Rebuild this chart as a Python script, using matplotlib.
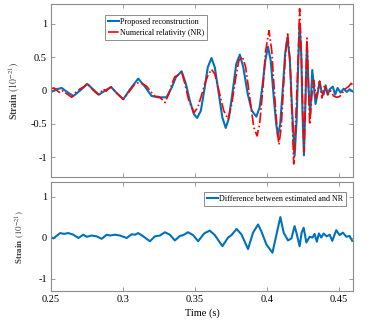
"""Reconstructed strain waveform vs numerical relativity, with the residual below."""

import matplotlib
matplotlib.use("Agg")
import matplotlib.pyplot as plt
from matplotlib.ticker import FixedLocator

plt.rcParams["font.family"] = ["Liberation Serif", "DejaVu Serif"]
plt.rcParams["mathtext.fontset"] = "stix"

# (time s, strain 1e-21)
blue_pts = [
    (0.2500, -0.02), (0.2535, 0.02), (0.2574, 0.04), (0.2611, -0.02), (0.2655, -0.08),
    (0.2701, 0.00), (0.2752, 0.10), (0.2792, 0.02), (0.2833, -0.06), (0.2875, 0.00),
    (0.2917, 0.055), (0.2958, -0.04), (0.3002, -0.13), (0.3049, 0.02), (0.3106, 0.18),
    (0.3153, 0.06), (0.3199, -0.08), (0.3243, -0.10), (0.3303, -0.10), (0.3340, 0.05),
    (0.3368, 0.20), (0.3408, 0.29), (0.3438, 0.10), (0.3465, -0.15), (0.3493, -0.35),
    (0.3516, -0.41), (0.3542, -0.30), (0.3569, 0.05), (0.3590, 0.35), (0.3616, 0.49),
    (0.3639, 0.35), (0.3667, -0.05), (0.3691, -0.40), (0.3715, -0.56), (0.3736, -0.42),
    (0.3764, 0.00), (0.3788, 0.40), (0.3813, 0.54), (0.3837, 0.35), (0.3868, -0.05),
    (0.3896, -0.30), (0.3928, -0.39), (0.3951, -0.25), (0.3972, 0.10), (0.3990, 0.45),
    (0.4009, 0.66), (0.4028, 0.45), (0.4049, -0.10), (0.4066, -0.50), (0.4078, -0.68),
    (0.4094, -0.50), (0.4111, 0.00), (0.4128, 0.55), (0.4144, 0.79), (0.4160, 0.50),
    (0.4177, -0.30), (0.4194, -0.98), (0.4208, -0.45), (0.4219, 0.40), (0.4229, 1.01),
    (0.4240, 0.55), (0.4250, -0.40), (0.4259, -0.97), (0.4269, -0.20), (0.4280, 0.70),
    (0.4292, 0.00), (0.4303, -0.36), (0.4317, 0.31), (0.4340, -0.20), (0.4358, 0.00),
    (0.4368, 0.14), (0.4382, -0.02), (0.4396, -0.06), (0.4410, 0.08), (0.4424, -0.06),
    (0.4438, 0.02), (0.4460, 0.06), (0.4476, -0.06), (0.4493, 0.04), (0.4514, -0.03),
    (0.4535, 0.03), (0.4556, -0.02), (0.4576, 0.02), (0.4597, -0.01),
]

red_pts = [
    (0.2500, 0.03), (0.2521, 0.04), (0.2542, 0.00), (0.2563, -0.035), (0.2583, 0.00),
    (0.2604, -0.04), (0.2644, -0.10), (0.2674, -0.02), (0.2701, 0.025), (0.2729, 0.06),
    (0.2752, 0.11), (0.2778, 0.04), (0.2806, -0.02), (0.2828, -0.06), (0.2847, -0.02),
    (0.2863, 0.025), (0.2882, -0.01), (0.2896, 0.02), (0.2917, 0.055), (0.2958, -0.04),
    (0.3002, -0.13), (0.3049, 0.00), (0.3083, 0.10), (0.3111, 0.12), (0.3139, 0.10),
    (0.3165, 0.065), (0.3188, 0.00), (0.3222, -0.085), (0.3250, -0.09), (0.3271, -0.13),
    (0.3292, -0.18), (0.3319, -0.05), (0.3340, 0.10), (0.3361, 0.21), (0.3382, 0.23),
    (0.3408, 0.29), (0.3431, 0.10), (0.3458, -0.15), (0.3495, -0.33), (0.3521, -0.25),
    (0.3549, -0.05), (0.3569, 0.10), (0.3590, 0.22), (0.3616, 0.32), (0.3639, 0.25),
    (0.3667, 0.00), (0.3701, -0.30), (0.3731, -0.43), (0.3757, -0.20), (0.3785, 0.20),
    (0.3806, 0.45), (0.3831, 0.51), (0.3854, 0.35), (0.3882, -0.10), (0.3910, -0.55),
    (0.3933, -0.68), (0.3951, -0.50), (0.3972, 0.00), (0.3993, 0.60), (0.4016, 0.90),
    (0.4035, 0.60), (0.4056, -0.10), (0.4073, -0.60), (0.4085, -0.81), (0.4101, -0.55),
    (0.4118, 0.10), (0.4132, 0.60), (0.4146, 0.85), (0.4163, 0.40), (0.4177, -0.40),
    (0.4188, -1.10), (0.4201, -0.50), (0.4219, 0.50), (0.4229, 1.23), (0.4242, 0.50),
    (0.4250, -0.30), (0.4260, -0.92), (0.4271, 0.00), (0.4280, 0.79), (0.4290, 0.10),
    (0.4299, -0.51), (0.4313, -0.10), (0.4326, 0.16), (0.4345, -0.11), (0.4368, 0.14),
    (0.4384, -0.11), (0.4403, 0.09), (0.4426, -0.06), (0.4444, 0.00), (0.4465, -0.08),
    (0.4486, -0.10), (0.4507, -0.09), (0.4528, -0.03), (0.4549, 0.03), (0.4569, 0.06),
    (0.4588, 0.11), (0.4597, 0.09),
]

diff_pts = [
    (0.2500, 0.01), (0.2516, -0.02), (0.2563, 0.11), (0.2590, 0.09), (0.2620, 0.11),
    (0.2655, 0.07), (0.2690, -0.01), (0.2724, 0.07), (0.2748, 0.02), (0.2783, 0.05),
    (0.2817, 0.03), (0.2852, -0.03), (0.2887, 0.07), (0.2910, 0.05), (0.2944, 0.07),
    (0.2979, 0.05), (0.3026, -0.01), (0.3060, 0.08), (0.3083, 0.07), (0.3106, 0.11),
    (0.3141, 0.03), (0.3188, -0.09), (0.3222, 0.03), (0.3257, 0.05), (0.3292, 0.13),
    (0.3326, 0.07), (0.3361, -0.07), (0.3396, 0.04), (0.3419, 0.06), (0.3453, 0.13),
    (0.3488, 0.06), (0.3523, -0.09), (0.3558, 0.07), (0.3569, 0.11), (0.3604, 0.17),
    (0.3639, 0.06), (0.3692, -0.21), (0.3731, 0.00), (0.3755, 0.06), (0.3790, 0.21),
    (0.3824, 0.08), (0.3870, -0.28), (0.3905, 0.12), (0.3940, 0.32), (0.3963, 0.15),
    (0.3998, -0.17), (0.4040, -0.37), (0.4067, 0.06), (0.4095, 0.50), (0.4118, 0.12),
    (0.4148, -0.07), (0.4172, -0.02), (0.4194, 0.28), (0.4208, 0.10), (0.4229, -0.21),
    (0.4243, 0.12), (0.4257, 0.24), (0.4276, -0.12), (0.4299, 0.02), (0.4319, 0.00),
    (0.4333, 0.09), (0.4349, -0.10), (0.4363, 0.10), (0.4380, 0.00), (0.4396, 0.10),
    (0.4417, 0.03), (0.4438, 0.07), (0.4456, -0.08), (0.4484, 0.18), (0.4507, 0.06),
    (0.4530, 0.12), (0.4554, 0.02), (0.4576, 0.04), (0.4595, -0.08),
]

x_ticks = [0.25, 0.3, 0.35, 0.4, 0.45]
x_ticklabels = ["0.25", "0.3", "0.35", "0.4", "0.45"]
top_yticks = [-1, -0.5, 0, 0.5, 1]
top_yticklabels = ["-1", "-0.5", "0", "0.5", "1"]
bot_yticks = [-1, 0, 1]
bot_yticklabels = ["-1", "0", "1"]

BLUE = "#0072BD"
RED = "#FF0000"
SPINE = "#8c8c8c"


def matlab_box(ax):
    for s in ax.spines.values():
        s.set_color(SPINE)
        s.set_linewidth(0.8)
    ax.tick_params(direction="in", length=3, width=0.6, color=SPINE,
                   top=True, right=True, labelsize=7.5, pad=3)


def boxed_legend(ax, **kw):
    leg = ax.legend(fontsize=5.9, handlelength=1.3, handletextpad=0.15,
                    borderpad=0.35, labelspacing=0.35, fancybox=False,
                    framealpha=1, **kw)
    leg.get_frame().set_edgecolor(SPINE)
    leg.get_frame().set_linewidth(0.7)
    return leg


fig = plt.figure(figsize=(3.9, 3.32), dpi=100)
ax1 = fig.add_axes([0.131, 0.466, 0.774, 0.522])
ax2 = fig.add_axes([0.131, 0.124, 0.774, 0.327])

bt, bv = zip(*blue_pts)
rt, rv = zip(*red_pts)
dt, dv = zip(*diff_pts)

ax1.plot(bt, bv, color=BLUE, lw=1.5, label="Proposed reconstruction")
ax1.plot(rt, rv, color=RED, lw=1.2, ls="-.", label="Numerical relativity (NR)")
ax1.set_xlim(0.25, 0.46)
ax1.set_ylim(-1.3, 1.3)
ax1.xaxis.set_major_locator(FixedLocator(x_ticks))
ax1.set_xticklabels([])
ax1.set_yticks(top_yticks)
ax1.set_yticklabels(top_yticklabels)
matlab_box(ax1)
ax1.set_ylabel(r"Strain $\mathrm{(10^{-21})}$", fontsize=7, fontweight="bold",
               color="#404040", labelpad=6)
boxed_legend(ax1, loc="upper left", bbox_to_anchor=(0.165, 0.96))

ax2.plot(dt, dv, color=BLUE, lw=1.5, label="Difference between estimated and NR")
ax2.set_xlim(0.25, 0.46)
ax2.set_ylim(-1.3, 1.35)
ax2.set_xticks(x_ticks)
ax2.set_xticklabels(x_ticklabels)
ax2.set_yticks(bot_yticks)
ax2.set_yticklabels(bot_yticklabels)
matlab_box(ax2)
ax2.set_ylabel(r"Strain $\mathrm{(10^{-21})}$", fontsize=6.5, fontweight="bold",
               color="#404040", labelpad=8)
ax2.set_xlabel("Time (s)", fontsize=7.5, labelpad=3)
boxed_legend(ax2, loc="upper right", bbox_to_anchor=(0.99, 0.95))

fig.savefig("out.png", dpi=100)
